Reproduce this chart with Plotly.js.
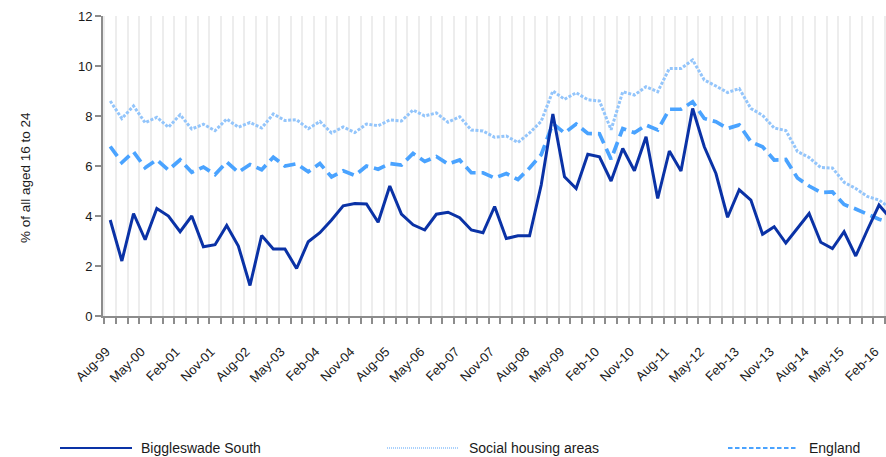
<!DOCTYPE html>
<html>
<head>
<meta charset="utf-8">
<script src="https://cdn.plot.ly/plotly-3.0.1.min.js"></script>
<style>
html,body{margin:0;padding:0;background:#fff;}
#chart{width:886px;height:457px;}
</style>
</head>
<body>
<div id="chart"></div>
<script>
// Quarterly periods (Aug-99 ... May-16)
const quarters = [
 "Aug-99","Nov-99","Feb-00","May-00","Aug-00","Nov-00","Feb-01","May-01","Aug-01","Nov-01",
 "Feb-02","May-02","Aug-02","Nov-02","Feb-03","May-03","Aug-03","Nov-03","Feb-04","May-04",
 "Aug-04","Nov-04","Feb-05","May-05","Aug-05","Nov-05","Feb-06","May-06","Aug-06","Nov-06",
 "Feb-07","May-07","Aug-07","Nov-07","Feb-08","May-08","Aug-08","Nov-08","Feb-09","May-09",
 "Aug-09","Nov-09","Feb-10","May-10","Aug-10","Nov-10","Feb-11","May-11","Aug-11","Nov-11",
 "Feb-12","May-12","Aug-12","Nov-12","Feb-13","May-13","Aug-13","Nov-13","Feb-14","May-14",
 "Aug-14","Nov-14","Feb-15","May-15","Aug-15","Nov-15","Feb-16","May-16"
];

// Tick labels shown on the axis
const tickLabels = [
 "Aug-99","May-00","Feb-01","Nov-01","Aug-02","May-03","Feb-04","Nov-04","Aug-05","May-06",
 "Feb-07","Nov-07","Aug-08","May-09","Feb-10","Nov-10","Aug-11","May-12","Feb-13","Nov-13",
 "Aug-14","May-15","Feb-16"
];

const biggleswadeSouth = [
 3.84,2.2,4.1,3.05,4.3,4.0,3.37,4.0,2.77,2.85,
 3.62,2.8,1.22,3.22,2.68,2.68,1.9,2.97,3.33,3.84,
 4.41,4.5,4.48,3.75,5.2,4.08,3.65,3.44,4.07,4.15,
 3.93,3.44,3.33,4.38,3.1,3.21,3.21,5.24,8.08,5.57,
 5.1,6.47,6.37,5.4,6.7,5.81,7.17,4.7,6.6,5.8,
 8.3,6.77,5.7,3.95,5.05,4.64,3.27,3.57,2.92,3.5,
 4.1,2.95,2.7,3.37,2.4,3.44,4.44,3.9
];

const socialHousingAreas = [
 8.6,7.9,8.4,7.73,7.95,7.55,8.05,7.48,7.67,7.41,
 7.88,7.55,7.74,7.52,8.08,7.82,7.85,7.49,7.78,7.32,
 7.56,7.34,7.68,7.61,7.84,7.8,8.24,8.0,8.12,7.75,
 7.97,7.44,7.4,7.15,7.2,6.94,7.32,7.79,9.0,8.67,
 8.93,8.65,8.6,7.45,8.97,8.84,9.17,8.97,9.9,9.9,
 10.24,9.44,9.2,8.94,9.1,8.3,8.03,7.52,7.42,6.58,
 6.34,5.94,5.92,5.35,5.1,4.78,4.64,4.3
];

const england = [
 6.78,6.14,6.57,5.93,6.25,5.84,6.25,5.75,5.96,5.66,
 6.16,5.75,6.06,5.85,6.35,6.0,6.09,5.77,6.1,5.56,
 5.81,5.62,6.0,5.87,6.1,6.04,6.5,6.18,6.38,6.08,
 6.24,5.73,5.73,5.52,5.7,5.46,5.92,6.45,7.7,7.32,
 7.68,7.3,7.29,6.27,7.5,7.33,7.64,7.44,8.27,8.27,
 8.57,7.9,7.77,7.5,7.64,6.97,6.77,6.24,6.26,5.52,
 5.2,4.94,4.96,4.46,4.28,4.06,3.87,3.72
];

const seriesNames = ["Biggleswade South","Social housing areas","England"];
const yTitle = "% of all aged 16 to 24";

// ---- build ----
const xIdx = quarters.map((q,i)=>i);
const tickVals = tickLabels.map(l => quarters.indexOf(l));

const FONT = "Liberation Sans, Arial, sans-serif";
const C_DARK = "#0a32a6", C_LIGHT = "#93c5fb", C_MID = "#4aa3ff";

const traces = [
 {x:xIdx, y:socialHousingAreas, name:seriesNames[1], type:"scatter", mode:"lines",
  line:{color:C_LIGHT, width:3, dash:"3px,1.6px"}, text:quarters, hoverinfo:"text+y"},
 {x:xIdx, y:england, name:seriesNames[2], type:"scatter", mode:"lines",
  line:{color:C_MID, width:3.7, dash:"12px,6px"}, text:quarters, hoverinfo:"text+y"},
 {x:xIdx, y:biggleswadeSouth, name:seriesNames[0], type:"scatter", mode:"lines",
  line:{color:C_DARK, width:3}, text:quarters, hoverinfo:"text+y"}
];

const W = 886, H = 457;
const M = {l:103, r:0, t:16, b:141};
const PW = W - M.l - M.r, PH = H - M.t - M.b;
const px = v => (v - M.l) / PW;
const py = v => (H - M.b - v) / PH;

const legendY = 448;
const legendItems = [
 {x0:60, x1:132, tx:139, color:C_DARK, width:2, dash:"solid", label:seriesNames[0]},
 {x0:387, x1:459, tx:467, color:"#8ec2fb", width:1.5, dash:"1px,1px", label:seriesNames[1]},
 {x0:728, x1:796, tx:807, color:C_MID, width:2, dash:"4.5px,2.5px", label:seriesNames[2]}
];

const shapes = legendItems.map(it => ({
 type:"line", xref:"paper", yref:"paper",
 x0:px(it.x0), x1:px(it.x1), y0:py(legendY), y1:py(legendY),
 line:{color:it.color, width:it.width, dash:it.dash}
}));

const annotations = legendItems.map(it => ({
 xref:"paper", yref:"paper", x:px(it.tx), y:py(legendY),
 xanchor:"left", yanchor:"middle", showarrow:false, text:it.label,
 font:{family:FONT, size:14, color:"#1a1a1a"}
}));
annotations.push({
 xref:"paper", yref:"paper", x:px(25), y:py(178), xanchor:"center", yanchor:"middle",
 textangle:-90, showarrow:false, text:yTitle, font:{family:FONT, size:13.5, color:"#1a1a1a"}
});

const layout = {
 width:W, height:H, margin:M,
 paper_bgcolor:"#fff", plot_bgcolor:"#fff",
 showlegend:false,
 font:{family:FONT, size:13, color:"#1a1a1a"},
 xaxis:{
  range:[-0.62, 66.6], tickmode:"array", tickvals:tickVals, ticktext:tickLabels,
  tickangle:-45, ticks:"", showgrid:false, zeroline:false,
  ticklabelstandoff:21, ticklabelshift:-4,
  showline:true, linecolor:"#8c8c8c", linewidth:2,
  tickfont:{family:FONT, size:13, color:"#1a1a1a"},
  minor:{tickmode:"linear", tick0:-0.5, dtick:1, ticks:"outside", ticklen:6,
         tickwidth:2, tickcolor:"#8c8c8c", showgrid:true, gridcolor:"#ededed", gridwidth:2}
 },
 yaxis:{
  range:[0,12], tickmode:"linear", tick0:0, dtick:2, ticks:"outside", ticklen:6,
  tickwidth:2, tickcolor:"#8c8c8c", showline:true, linecolor:"#8c8c8c", linewidth:2,
  showgrid:false, zeroline:false, tickfont:{family:FONT, size:13, color:"#1a1a1a"}
 },
 shapes:shapes, annotations:annotations
};

Plotly.newPlot("chart", traces, layout, {displayModeBar:false, staticPlot:true});
</script>
</body>
</html>
